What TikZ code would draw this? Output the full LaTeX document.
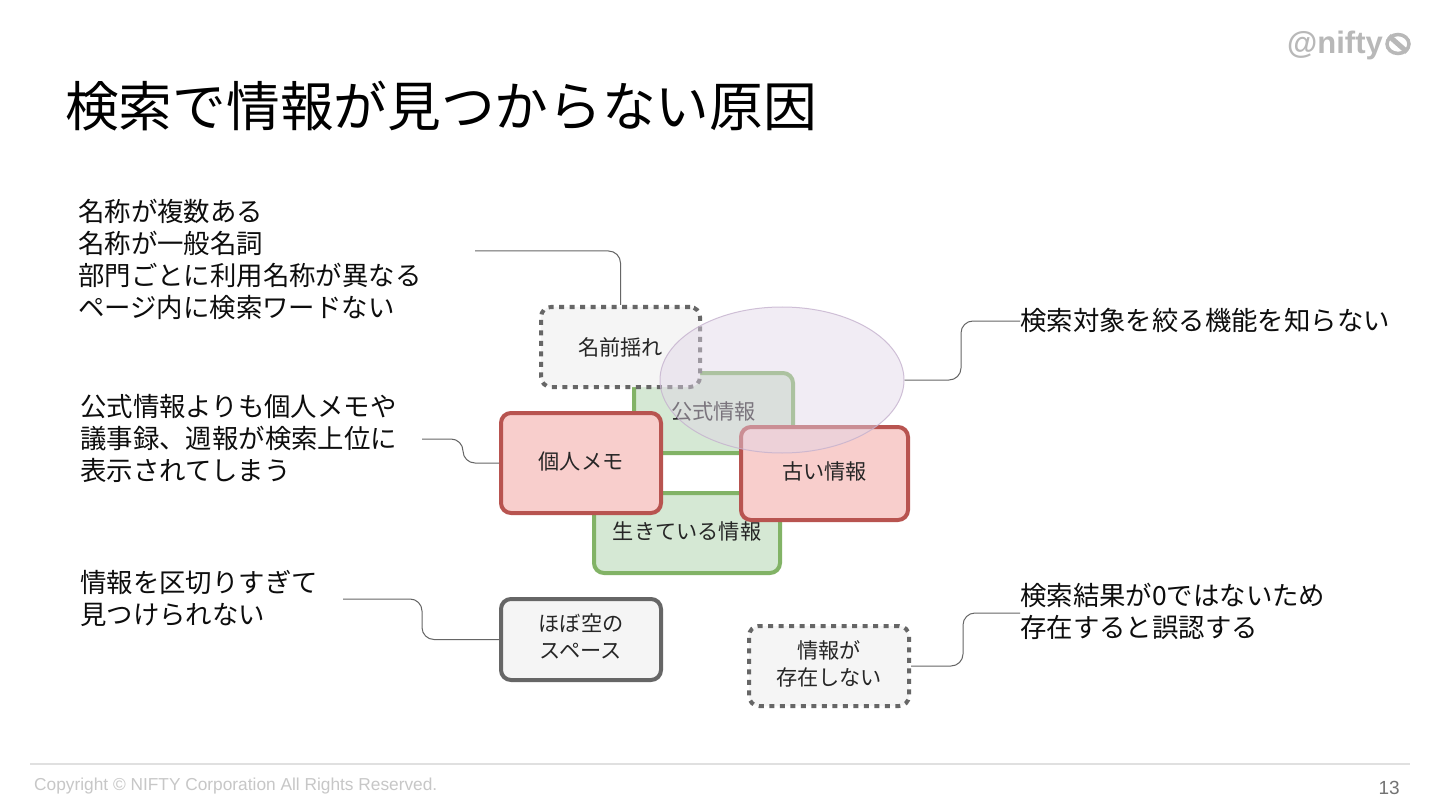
\documentclass[tikz,border=0pt]{standalone}
\usetikzlibrary{shapes.geometric}
\usepackage{fontspec}
\setmainfont{Noto Sans CJK JP}
\newfontfamily\latinf{Liberation Sans}
\definecolor{greenF}{HTML}{D5E8D4}
\definecolor{greenS}{HTML}{82B366}
\definecolor{redF}{HTML}{F8CECC}
\definecolor{redS}{HTML}{B85450}
\definecolor{grayF}{HTML}{F5F5F5}
\definecolor{grayS}{HTML}{666666}
\definecolor{purF}{HTML}{E1D5E7}
\definecolor{purS}{HTML}{9673A6}
\newcommand{\fs}[1]{\fontsize{#1pt}{#1pt}\selectfont}
\newcommand{\upone}[2]{\raisebox{#1pt}[\height][\depth]{#2}}
\newcommand{\uptwo}[2]{\raisebox{#1pt}[\height][\depth]{\parbox{150pt}{\centering\setlength{\baselineskip}{27pt}#2\par}}}
\tikzset{
  x=1pt,y=-1pt,
  base/.style={draw,rounded corners=10pt,inner sep=0pt,line width=4pt,align=center,font=\fs{21.2}\setlength{\baselineskip}{27pt},text=black!85},
  greenbox/.style={base,fill=greenF,draw=greenS},
  redbox/.style={base,fill=redF,draw=redS},
  graybox/.style={base,fill=grayF,draw=grayS},
  dotbox/.style={base,fill=grayF,draw=grayS,dash pattern=on 5pt off 5.5pt},
  label/.style={anchor=west,align=left,inner sep=0pt,font=\fs{26.4}\setlength{\baselineskip}{32pt},text=black!95},
  conn/.style={draw=black!60,line width=1pt,rounded corners=12pt},
}
\begin{document}
\begin{tikzpicture}
\useasboundingbox (0,0) rectangle (1440,810);
\fill[white] (0,0) rectangle (1440,810);
% logo
\node[anchor=east,inner sep=0pt,text=black!28,font=\latinf\bfseries\fs{31}] (logo) at (1383,45) {@nifty};
\node[ellipse,draw=black!28,fill=white,line width=3.5pt,minimum width=22pt,minimum height=19pt,inner sep=0pt] (logomark) at (1398,44) {};
\draw[black!28,line width=5pt] (logomark.north west) -- (logomark.south east);
% title
\node[anchor=west,inner sep=0pt,font=\fs{53.7}] (title) at (65,106) {検索で情報が見つからない原因};
% footer
\draw[black!12,line width=2pt] (30,764) coordinate (fl) -- (1410,764) coordinate (fr);
\node[anchor=west,inner sep=0pt,text=black!22,font=\latinf\fs{17.3}] (copy) at (34,786) {Copyright © NIFTY Corporation All Rights Reserved.};
\node[anchor=east,inner sep=0pt,text=black!55,font=\latinf\fs{19}] (page) at (1400,788) {13};
% boxes
\node[greenbox,minimum width=159pt,minimum height=80pt] (koshiki) at (713.5,413) {\upone{2}{公式情報}};
\node[greenbox,minimum width=186pt,minimum height=80pt] (ikiteiru) at (687,533) {\upone{2}{生きている情報}};
\node[dotbox,minimum width=159pt,minimum height=80pt] (namae) at (620.5,347) {名前揺れ};
\node[redbox,minimum width=160pt,minimum height=100pt] (kojin) at (581,463) {\upone{1}{個人メモ}};
\node[redbox,minimum width=167pt,minimum height=93pt] (furui) at (824.5,473.5) {\upone{2}{古い情報}};
\node[graybox,minimum width=160pt,minimum height=81pt] (hobo) at (581,639.5) {\uptwo{3}{ほぼ空の\\スペース}};
\node[dotbox,minimum width=160pt,minimum height=80pt] (sonzai) at (829,666) {\uptwo{2}{情報が\\存在しない}};
\node[ellipse,draw=purS!55,fill=purF,fill opacity=.45,draw opacity=.8,line width=1pt,minimum width=244pt,minimum height=146pt,inner sep=0pt] (daen) at (782,380) {};
% labels
\node[label] (t1) at (78,259) {名称が複数ある\\名称が一般名詞\\部門ごとに利用名称が異なる\\ページ内に検索ワードない};
\node[label] (t2) at (80,438) {公式情報よりも個人メモや\\議事録、週報が検索上位に\\表示されてしまう};
\node[label] (t3) at (80,598) {情報を区切りすぎて\\見つけられない};
\node[label] (t4) at (1020,320) {検索対象を絞る機能を知らない};
\node[label] (t5) at (1020,611) {検索結果が0ではないため\\存在すると誤認する};
% connectors
\coordinate (c1) at (475,251);
\coordinate (c2) at (422,439);
\coordinate (c3) at (343,599);
\draw[conn] (c1) -| (namae.north);
\draw[conn] (c2) -- (463,439) -- (463,463) -- (kojin.west);
\draw[conn] (c3) -- (422,599) -- (422,639.5) -- (hobo.west);
\draw[conn] (daen.east) -- (961,380) -- (961,321) -- ([yshift=-1pt]t4.west);
\draw[conn] (sonzai.east) -- (963,666) -- (963,613) -- ([yshift=-2pt]t5.west);
\end{tikzpicture}
\end{document}
